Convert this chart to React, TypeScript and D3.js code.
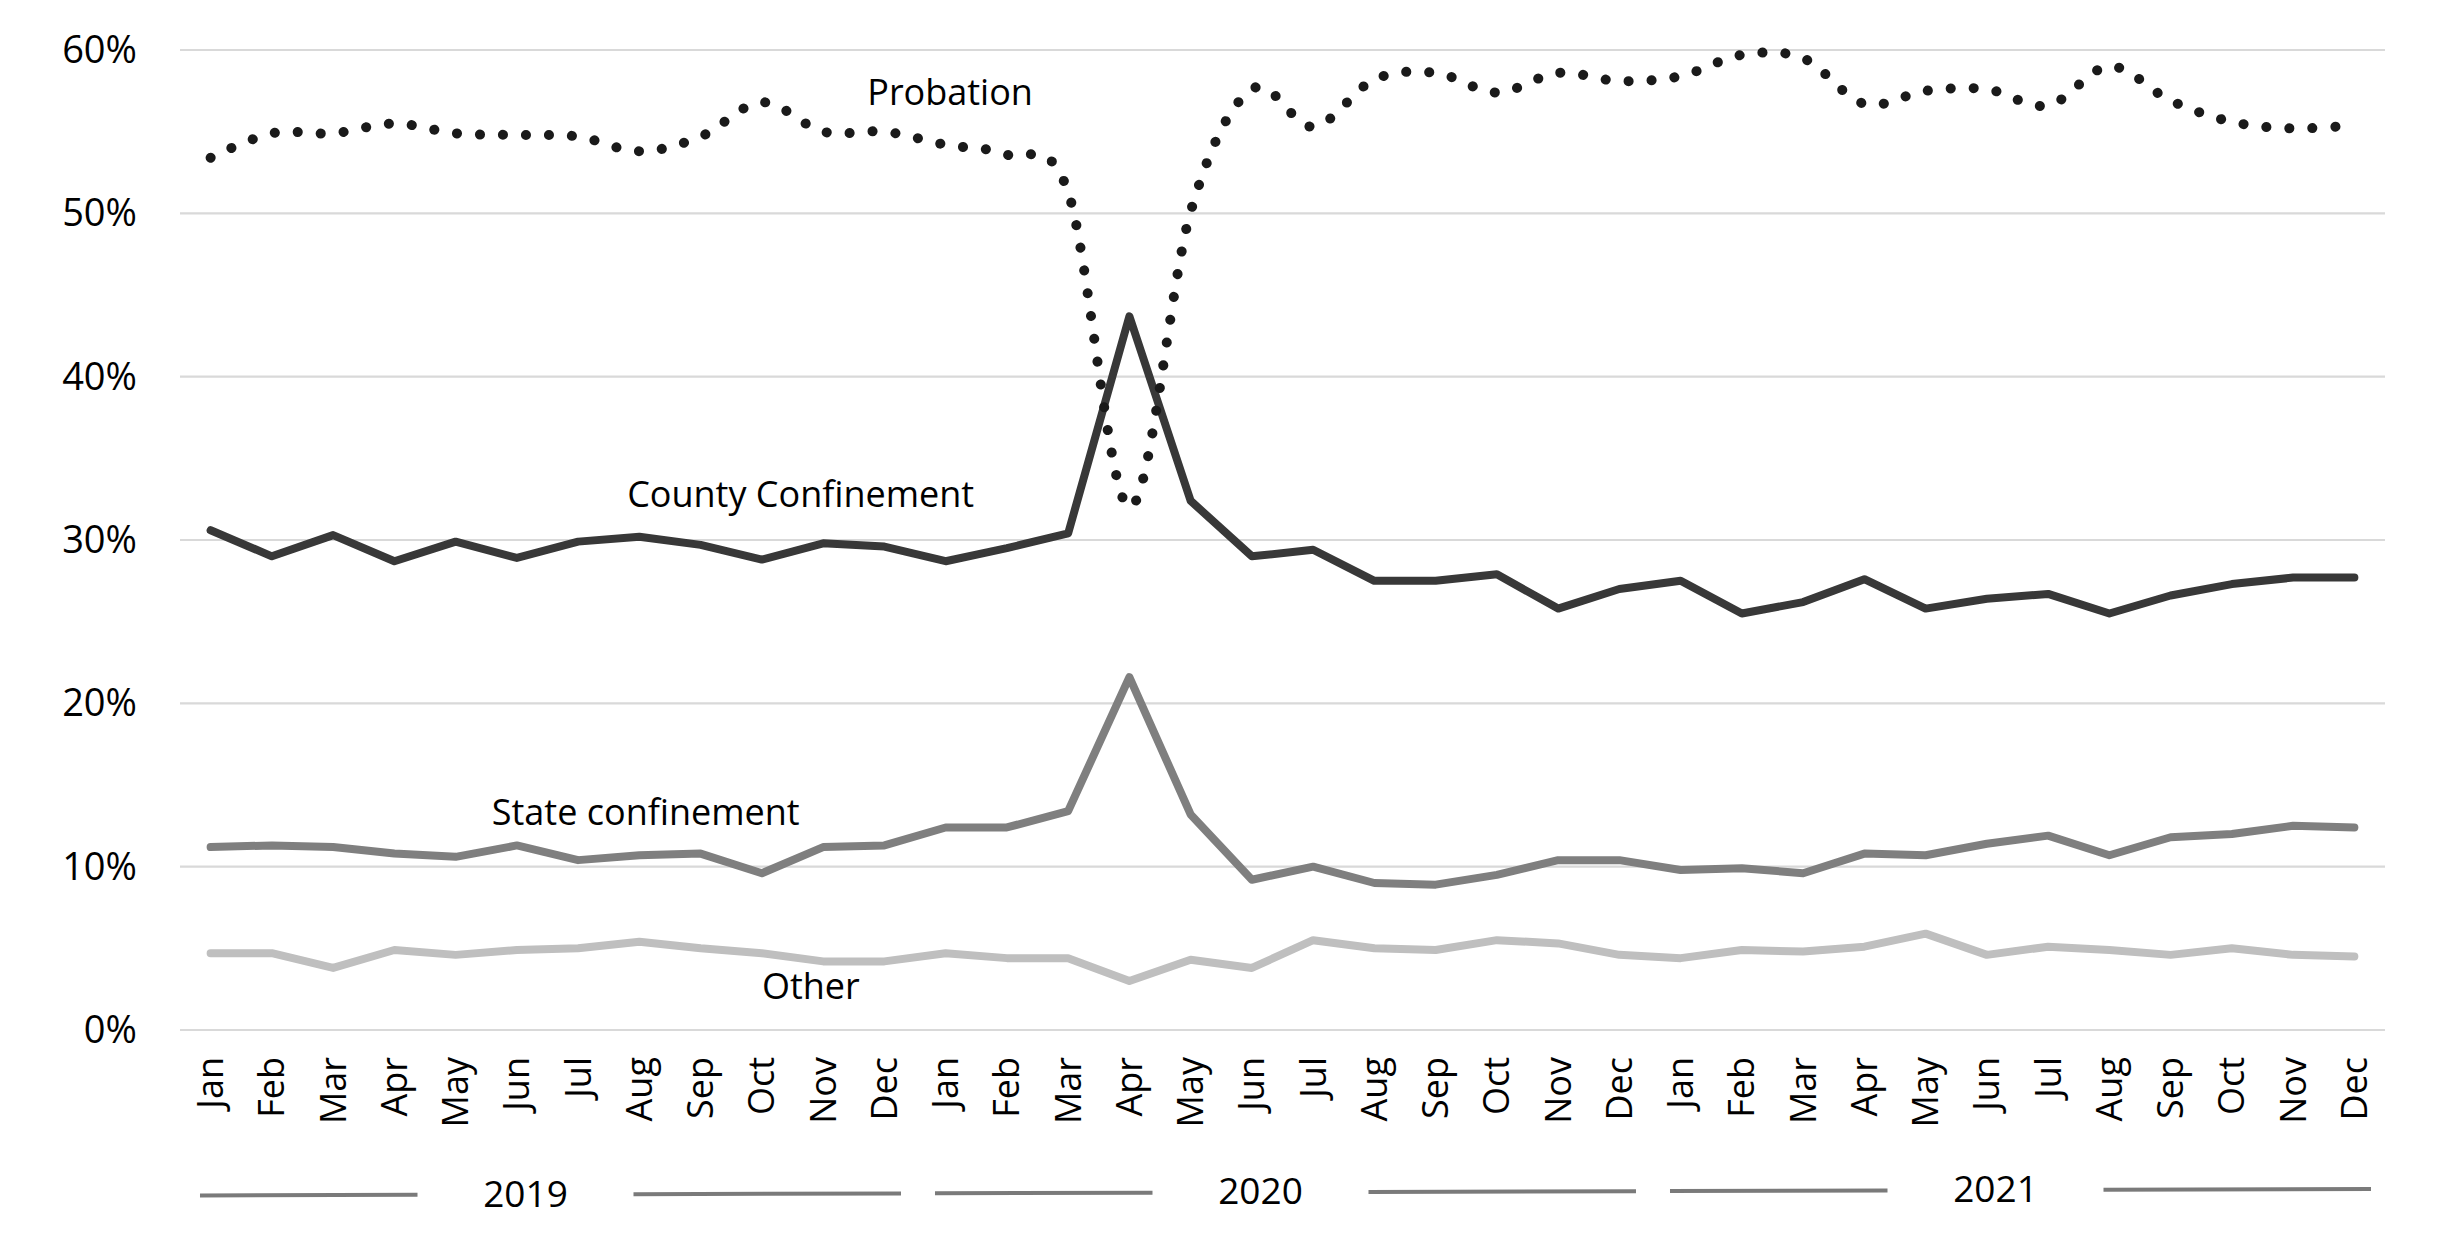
import React from "react";
import * as d3 from "d3";

const months = ["Jan", "Feb", "Mar", "Apr", "May", "Jun", "Jul", "Aug", "Sep", "Oct", "Nov", "Dec"];
const years = ["2019", "2020", "2021"];
const yTicks = [0, 0.1, 0.2, 0.3, 0.4, 0.5, 0.6];

// values in percent, Jan 2019 .. Dec 2021
const probation = [
  53.4, 54.9, 54.9, 55.5, 54.9, 54.8, 54.7, 53.8, 54.7, 56.8, 55.0, 55.0,
  54.2, 53.6, 51.3, 32.0, 50.1, 57.6, 55.3, 58.2, 58.6, 57.4, 58.6, 58.1,
  58.4, 59.7, 59.5, 56.7, 57.5, 57.6, 56.6, 59.0, 56.9, 55.6, 55.2, 55.4,
];
const county = [
  30.6, 29.0, 30.3, 28.7, 29.9, 28.9, 29.9, 30.2, 29.7, 28.8, 29.8, 29.6,
  28.7, 29.5, 30.4, 43.7, 32.4, 29.0, 29.4, 27.5, 27.5, 27.9, 25.8, 27.0,
  27.5, 25.5, 26.2, 27.6, 25.8, 26.4, 26.7, 25.5, 26.6, 27.3, 27.7, 27.7,
];
const stateConf = [
  11.2, 11.3, 11.2, 10.8, 10.6, 11.3, 10.4, 10.7, 10.8, 9.6, 11.2, 11.3,
  12.4, 12.4, 13.4, 21.6, 13.2, 9.2, 10.0, 9.0, 8.9, 9.5, 10.4, 10.4,
  9.8, 9.9, 9.6, 10.8, 10.7, 11.4, 11.9, 10.7, 11.8, 12.0, 12.5, 12.4,
];
const other = [
  4.7, 4.7, 3.8, 4.9, 4.6, 4.9, 5.0, 5.4, 5.0, 4.7, 4.2, 4.2,
  4.7, 4.4, 4.4, 3.0, 4.3, 3.8, 5.5, 5.0, 4.9, 5.5, 5.3, 4.6,
  4.4, 4.9, 4.8, 5.1, 5.9, 4.6, 5.1, 4.9, 4.6, 5.0, 4.6, 4.5,
];

// annotation anchors: position in month-band units, value in percent
const annotations = [
  { text: "Probation", pos: 11.22, value: 56.63 },
  { text: "County Confinement", pos: 7.3, value: 32.02 },
  { text: "State confinement", pos: 5.09, value: 12.55 },
  { text: "Other", pos: 9.5, value: 1.9 },
];

const FONT = "'Open Sans', 'DejaVu Sans', sans-serif";

export default function App() {
  const W = 2437;
  const H = 1242;
  const left = 180;
  const right = 2385;
  const top = 50;
  const bottom = 1030;

  const cats = years.flatMap((yr) => months.map((m) => `${m} ${yr}`));
  const x = d3.scaleBand<string>().domain(cats).range([left, right]).padding(0);
  const xu = d3.scaleLinear().domain([0, cats.length]).range([left, right]);
  const y = d3.scaleLinear().domain([0, 0.6]).range([bottom, top]);
  const cx = (i: number) => (x(cats[i]) as number) + x.bandwidth() / 2;

  const mk = (arr: number[], curve: d3.CurveFactory) =>
    d3
      .line<number>()
      .x((_, i) => cx(i))
      .y((d) => y(d / 100))
      .curve(curve)(arr) as string;

  const fmt = d3.format(".0%");

  // year group dividers (multi-level category axis)
  const divY = (px: number) => 1195.5 - ((px - 197) * 6.5) / 2178;
  const groups = years.map((yr, gi) => {
    const x0 = xu(gi * 12);
    const x1 = xu(gi * 12 + 12);
    const c = (x0 + x1) / 2 - 22;
    return {
      yr,
      c,
      segs: [
        [x0 + 20, c - 108],
        [c + 108, x1 - 14],
      ],
    };
  });

  return (
    <div>
      <style>{"body{margin:0;background:#fff}"}</style>
      <svg width={W} height={H} style={{ display: "block", fontFamily: FONT }}>
        <rect width={W} height={H} fill="#fff" />
        {/* gridlines */}
        {yTicks.map((t) => (
          <line key={t} x1={left} x2={right} y1={y(t)} y2={y(t)} stroke="#d9d9d9" strokeWidth={2.2} />
        ))}
        {/* y labels */}
        {yTicks.map((t) => (
          <text key={"l" + t} x={137} y={y(t)} dy="0.34em" textAnchor="end" fontSize={38} fill="#000">
            {fmt(t)}
          </text>
        ))}
        {/* month labels */}
        {cats.map((c, i) => (
          <text
            key={c}
            transform={`translate(${cx(i)},${1057}) rotate(-90)`}
            textAnchor="end"
            dy="0.35em"
            fontSize={36}
            fill="#000"
          >
            {c.split(" ")[0]}
          </text>
        ))}
        {/* year groups */}
        {groups.map((g) => (
          <g key={g.yr}>
            {g.segs.map(([a, b], k) => (
              <line key={k} x1={a} x2={b} y1={divY(a)} y2={divY(b)} stroke="#7a7a7a" strokeWidth={4} />
            ))}
            <text x={g.c} y={divY(g.c) + 12} textAnchor="middle" fontSize={37} fill="#000">
              {g.yr}
            </text>
          </g>
        ))}
        {/* series */}
        <path d={mk(other, d3.curveLinear)} fill="none" stroke="#bfbfbf" strokeWidth={8} strokeLinejoin="round" strokeLinecap="round" />
        <path d={mk(stateConf, d3.curveLinear)} fill="none" stroke="#7f7f7f" strokeWidth={8} strokeLinejoin="round" strokeLinecap="round" />
        <path d={mk(county, d3.curveLinear)} fill="none" stroke="#383838" strokeWidth={8} strokeLinejoin="round" strokeLinecap="round" />
        <path
          d={mk(probation, d3.curveCatmullRom.alpha(0))}
          fill="none"
          stroke="#1a1a1a"
          strokeWidth={10}
          strokeLinecap="round"
          strokeDasharray="0.1 22.9"
        />
        {/* annotations */}
        {annotations.map((a) => (
          <text key={a.text} x={xu(a.pos)} y={y(a.value / 100)} fontSize={36} fill="#000">
            {a.text}
          </text>
        ))}
      </svg>
    </div>
  );
}
